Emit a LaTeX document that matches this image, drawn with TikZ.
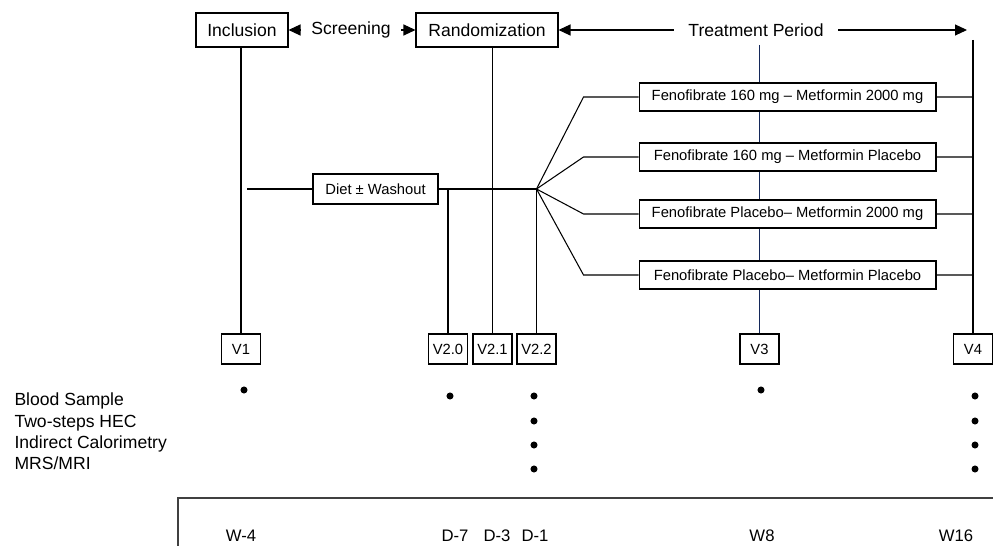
\documentclass[tikz,border=0pt]{standalone}
\usepackage{fontspec}
\setmainfont{Liberation Sans}
\usetikzlibrary{arrows.meta}
\definecolor{vnavy}{RGB}{20,40,90}
\begin{document}
\begin{tikzpicture}[x=0.02cm,y=-0.02cm,line width=0.6pt,
  >={Triangle[length=2.4mm,width=2.2mm]},
  phase/.style={draw,fill=white,minimum width=1.84cm,minimum height=0.68cm,inner sep=0pt,font=\fontsize{10}{12}\selectfont},
  visit/.style={draw,fill=white,minimum width=0.78cm,minimum height=0.6cm,inner sep=0pt,font=\fontsize{8.4}{10}\selectfont},
  arm/.style={draw,fill=white,minimum width=5.94cm,minimum height=0.56cm,inner sep=0pt,font=\fontsize{8.4}{10}\selectfont},
  lbl/.style={font=\fontsize{10}{12}\selectfont},
  wk/.style={font=\fontsize{9.5}{11}\selectfont}]
\useasboundingbox (0,0) rectangle (993,546);
% phases
\node[phase] (incl) at (242,30) {Inclusion};
\node[phase,minimum width=2.84cm] (rand) at (487,30) {Randomization};
\node[lbl,inner xsep=0.2cm] (scr) at (351,30) {Screening};
\node[lbl,inner xsep=0.28cm] (tp) at (756,30) {Treatment Period};
\coordinate (tpend) at (967,30);
\draw[->] (scr.west) -- (incl.east);
\draw[->] (scr.east) -- (rand.west);
\draw[->] (tp.west) -- (rand.east);
\draw[->] (tp.east) -- (tpend);
% visits
\node[visit] (v1) at (241,349) {V1};
\node[visit] (v20) at (448,349) {V2.0};
\node[visit] (v21) at (492.5,349) {V2.1};
\node[visit] (v22) at (536.5,349) {V2.2};
\node[visit] (v3) at (759.5,349) {V3};
\node[visit] (v4) at (973,349) {V4};
\coordinate (v3top) at (759.5,45);
\coordinate (v4top) at (973,40);
\draw (v1.north) -- (v1.north |- incl.south);
\draw (v21.north) -- (v21.north |- rand.south);
\draw[vnavy,line width=0.5pt] (v3top) -- (v3.north);
\draw (v4top) -- (v4.north);
% run-in
\coordinate (dstart) at (247,189);
\coordinate (fan) at (536.5,189);
\node[arm,minimum width=2.5cm,minimum height=0.6cm] (diet) at (375.5,189) {Diet ± Washout};
\draw (dstart) -- (diet.west);
\draw (diet.east) -- (fan);
\draw (fan) -- (v22.north);
\draw (v20.north) -- (v20.north |- fan);
% arms
\node[arm] (a1) at (787.5,97) {Fenofibrate 160 mg – Metformin 2000 mg};
\node[arm] (a2) at (787.5,157) {Fenofibrate 160 mg – Metformin Placebo};
\node[arm] (a3) at (787.5,214) {Fenofibrate Placebo– Metformin 2000 mg};
\node[arm] (a4) at (787.5,275) {Fenofibrate Placebo– Metformin Placebo};
\foreach \i in {1,...,4}
  \draw (fan) -- ([xshift=-1.1cm]a\i.west) -- (a\i.west)
        (a\i.east) -- (a\i.east -| v4.north);
% measurements
\foreach \t/\y [count=\i] in {Blood Sample/406,Two-steps HEC/428,Indirect Calorimetry/449,{MRS/MRI}/470}
  \node[lbl,anchor=base west,inner sep=0pt] (m\i) at (14,\y) {\t};
\foreach \x/\y in {244/390,450/396,761/390}
  \fill (\x,\y) circle (2pt);
\foreach \x in {534,975}
  \foreach \y in {396,421,445,469}
    \fill (\x,\y) circle (2pt);
% time line
\draw[line width=0.8pt,black!75] (993,498) -- (178,498) -- (178,546);
\foreach \t/\x [count=\i] in {W-4/241,D-7/455,D-3/497,D-1/535,W8/762,W16/956}
  \node[wk,anchor=base,inner sep=0pt] (w\i) at (\x,541) {\t};
\end{tikzpicture}
\end{document}
